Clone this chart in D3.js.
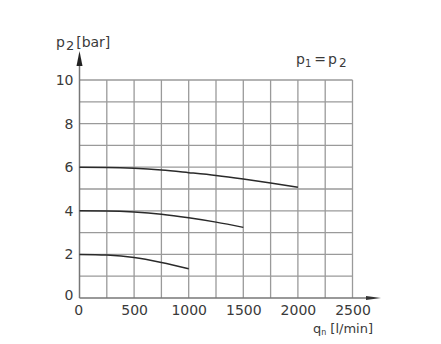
<!DOCTYPE html>
<html>
<head>
<meta charset="utf-8">
<script src="https://cdn.jsdelivr.net/npm/d3@7"></script>
<style>
  body { margin: 0; background: #fff; }
  text { font-family: "DejaVu Sans", sans-serif; fill: #3a3a3a; }
</style>
</head>
<body>
<div id="grafico"></div>
<script>
// Datos
const flujo6 = [0, 250, 500, 750, 1000, 1250, 1500, 1750, 2000];
const presion6 = [6.0, 5.99, 5.95, 5.87, 5.75, 5.62, 5.46, 5.28, 5.08];

const flujo4 = [0, 250, 500, 750, 1000, 1250, 1500];
const presion4 = [4.0, 3.99, 3.94, 3.84, 3.68, 3.48, 3.24];

const flujo2 = [0, 250, 500, 750, 1000];
const presion2 = [2.0, 1.97, 1.86, 1.63, 1.34];

const ticksX = [0, 500, 1000, 1500, 2000, 2500];
const ticksY = [0, 2, 4, 6, 8, 10];

const width = 441, height = 344;
const fuente = '"DejaVu Sans", sans-serif';

const svg = d3.select('#grafico')
  .append('svg')
  .attr('width', width)
  .attr('height', height);

// Escalas
const x = d3.scaleLinear().domain([0, 2500]).range([79.5, 352.5]);
const y = d3.scaleLinear().domain([0, 10]).range([298, 80]);

// Rejilla
const grid = svg.append('g').attr('stroke', '#9a9a9a').attr('stroke-width', 1.3);
grid.selectAll('line.v')
  .data(d3.range(250, 2501, 250))
  .join('line')
  .attr('x1', d => x(d)).attr('x2', d => x(d))
  .attr('y1', y(0)).attr('y2', y(10));
grid.selectAll('line.h')
  .data(d3.range(1, 11))
  .join('line')
  .attr('x1', x(0)).attr('x2', x(2500))
  .attr('y1', d => y(d)).attr('y2', d => y(d));

// Ejes
const ejeX = svg.append('g')
  .attr('transform', `translate(0, ${y(0)})`)
  .call(d3.axisBottom(x).tickValues(ticksX).tickSize(0).tickPadding(7).tickFormat(d3.format('d')));
ejeX.select('.domain').remove();
ejeX.selectAll('text').attr('font-size', 14).attr('fill', '#3a3a3a')
  .style('font-family', fuente);
ejeX.selectAll('.tick').filter(d => d === 0).select('text').attr('dx', '-0.1em');

const ejeY = svg.append('g')
  .attr('transform', `translate(${x(0)}, 0)`)
  .call(d3.axisLeft(y).tickValues(ticksY).tickSize(0).tickPadding(6));
ejeY.select('.domain').remove();
ejeY.selectAll('text').attr('font-size', 14).attr('fill', '#3a3a3a')
  .style('font-family', fuente);
ejeY.selectAll('.tick').filter(d => d === 0).select('text').attr('dy', '0.12em');

// Lineas de ejes con flechas
svg.append('line')
  .attr('x1', x(0)).attr('x2', 368)
  .attr('y1', y(0)).attr('y2', y(0))
  .attr('stroke', '#777').attr('stroke-width', 1.5);
svg.append('path')
  .attr('d', `M366,${y(0) - 2}L381,${y(0)}L366,${y(0) + 2}Z`)
  .attr('fill', '#333');
svg.append('line')
  .attr('x1', x(0)).attr('x2', x(0))
  .attr('y1', y(0)).attr('y2', 64)
  .attr('stroke', '#777').attr('stroke-width', 1.5);
svg.append('path')
  .attr('d', `M${x(0) - 3},66L${x(0)},51L${x(0) + 3},66Z`)
  .attr('fill', '#222');

// Curvas
const linea = d3.line()
  .x(d => x(d[0]))
  .y(d => y(d[1]))
  .curve(d3.curveMonotoneX);

[[flujo6, presion6], [flujo4, presion4], [flujo2, presion2]].forEach(([q, p]) => {
  svg.append('path')
    .datum(d3.zip(q, p))
    .attr('d', linea)
    .attr('fill', 'none')
    .attr('stroke', '#2a2a2a')
    .attr('stroke-width', 1.5);
});

// Titulos
const ty = svg.append('text').attr('x', 56).attr('y', 47).attr('font-size', 14);
ty.append('tspan').text('p');
ty.append('tspan').attr('dx', 1).attr('dy', 3).attr('font-size', 13).text('2');
ty.append('tspan').attr('dx', 2).attr('dy', -3).text('[bar]');

const tp = svg.append('text').attr('x', 296).attr('y', 64).attr('font-size', 14);
tp.append('tspan').text('p');
tp.append('tspan').attr('dy', 3).attr('font-size', 10).text('1');
tp.append('tspan').attr('dx', 3).attr('dy', -3).text('=');
tp.append('tspan').attr('dx', 2).text('p');
tp.append('tspan').attr('dx', 2).attr('dy', 3).attr('font-size', 12).text('2');

const tx = svg.append('text').attr('x', 313).attr('y', 333).attr('font-size', 13);
tx.append('tspan').text('q');
tx.append('tspan').attr('dy', 2).attr('font-size', 8).text('n');
tx.append('tspan').attr('dx', 4).attr('dy', -2).text('[l/min]');
</script>
</body>
</html>
